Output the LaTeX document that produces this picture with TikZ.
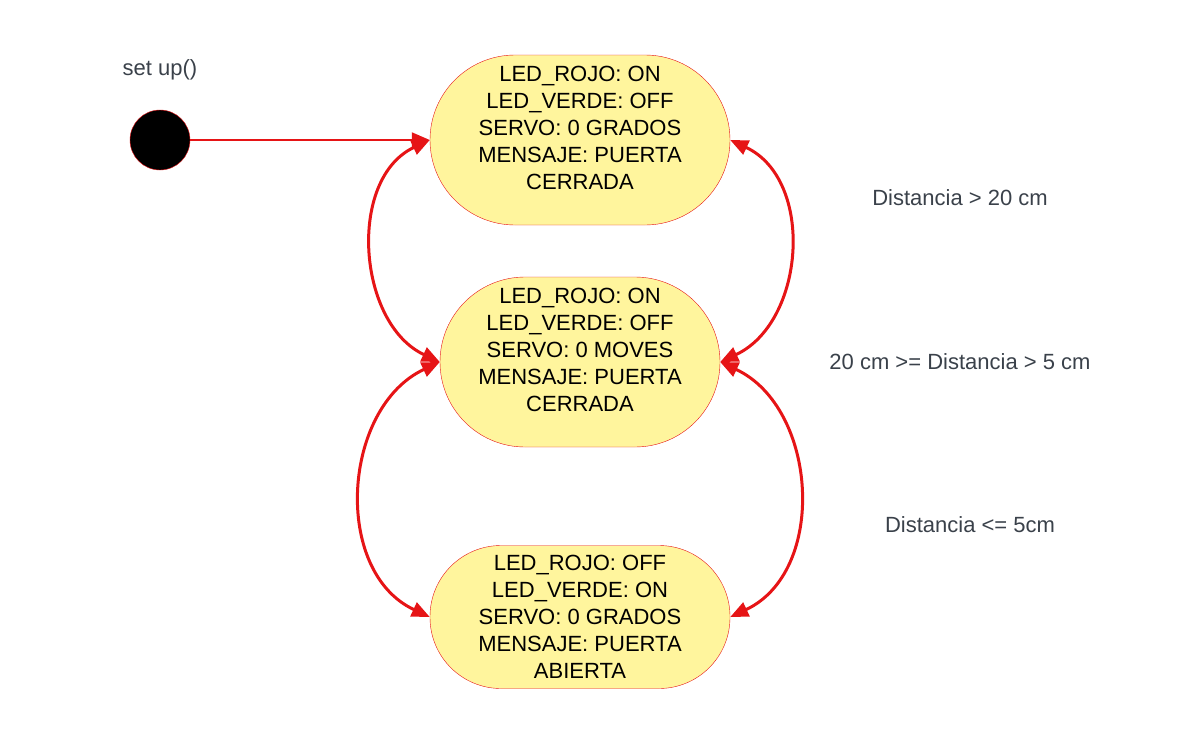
\documentclass[tikz,border=0pt]{standalone}
\usepackage{fontspec}
\setmainfont{Liberation Sans}
\usetikzlibrary{positioning, arrows.meta}
\definecolor{lucidred}{RGB}{230,20,22}
\definecolor{stateyellow}{RGB}{255,245,157}
\definecolor{labelgray}{RGB}{58,65,74}
\tikzset{
x=1pt, y=-1pt, % one unit is one pixel of the sketch, y grows downward
>={Triangle[length=18pt,width=15pt]}, % big filled arrow heads
state/.style={draw=lucidred, fill=stateyellow, align=center, inner sep=0pt,
  rounded corners=85pt, minimum width=300pt, minimum height=170pt,
  font=\fontsize{22}{27}\selectfont}, % the yellow capsules
raised/.style={text depth=25pt}, % text sits a bit high in the upper two
start/.style={circle, fill=black, draw=lucidred, minimum size=60pt, inner sep=0pt},
trans/.style={<->, draw=lucidred, line width=3pt}, % two way transitions
cond/.style={text=labelgray, font=\fontsize{22}{26}\selectfont}, % conditions on the right
}

\begin{document}
\begin{tikzpicture}
  \useasboundingbox (0,0) rectangle (1180,728);

  \node[start] (init) at (160,140) {};
  \node[cond, above=26pt of init] (setup) {set up()};

  \node[state, raised] (closed) at (580,140) {LED\_ROJO: ON\\LED\_VERDE: OFF\\SERVO: 0 GRADOS\\MENSAJE: PUERTA\\CERRADA};
  \node[state, raised, minimum width=280pt] (moving) at (580,362) {LED\_ROJO: ON\\LED\_VERDE: OFF\\SERVO: 0 MOVES\\MENSAJE: PUERTA\\CERRADA};
  \node[state, minimum height=143pt, rounded corners=71pt] (open) at (580,617) {LED\_ROJO: OFF\\LED\_VERDE: ON\\SERVO: 0 GRADOS\\MENSAJE: PUERTA\\ABIERTA};

  \node[cond] (far) at (960,198) {Distancia > 20 cm};
  \node[cond] (mid) at (960,362) {20 cm >= Distancia > 5 cm};
  \node[cond] (near) at (970,525) {Distancia <= 5cm};

  \draw[->, draw=lucidred, line width=2pt] (init) -- (closed.west);
  \draw[trans] (closed.west) to[out=205, in=155, looseness=1.05] (moving.west);
  \draw[trans] (closed.east) to[out=-25, in=25, looseness=1.08] (moving.east);
  \draw[trans] (moving.west) to[out=205, in=155, looseness=1.08] (open.west);
  \draw[trans] (moving.east) to[out=-25, in=25, looseness=1.08] (open.east);
\end{tikzpicture}
\end{document}
